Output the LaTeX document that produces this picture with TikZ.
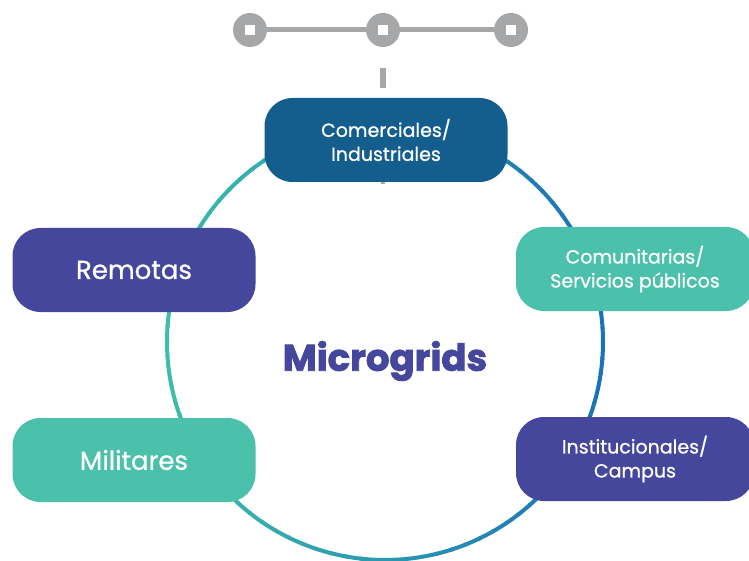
\documentclass[tikz,border=0pt]{standalone}
\usepackage{fontspec}
\setmainfont{Poppins}
\newfontfamily\medfont{Poppins}[FakeBold=0.8]
\newfontfamily\heavyfont{Poppins}[BoldFeatures={FakeBold=2.2}]
\definecolor{cteal}{HTML}{3DBDAB}
\definecolor{cblue}{HTML}{1A72B7}
\definecolor{boxteal}{HTML}{4BC0AB}
\definecolor{boxpurple}{HTML}{45479C}
\definecolor{boxnavy}{HTML}{135E8C}
\definecolor{cgray}{HTML}{A5A7A8}
\tikzset{
  catbox/.style={rounded corners=28pt, minimum width=243pt, minimum height=84pt,
    text=white, align=center, inner sep=0pt, font=\medfont\fontsize{19}{24}\selectfont},
  bigcat/.style={catbox, font=\medfont\fontsize{26}{30}\selectfont},
  dot/.style={circle, fill=cgray, minimum size=34pt, inner sep=0pt},
  sq/.style={fill=white, minimum size=10pt, inner sep=0pt}
}
\begin{document}
\begin{tikzpicture}[x=1pt,y=-1pt]
\useasboundingbox (0,0) rectangle (749,561);
\clip (0,0) rectangle (749,561);
% ring with horizontal colour gradient
\foreach \a in {0,4,...,356}{
  \pgfmathsetmacro\p{50+50*cos(\a+2)}
  \draw[line width=4pt, color=cblue!\p!cteal]
    ({385+218*cos(\a)},{342+218*sin(\a)}) arc[start angle=\a, end angle=\a+4.6, radius=218];
}
% top timeline
\node[dot] (d1) at (250,30) {};
\node[dot] (d2) at (383,30) {};
\node[dot] (d3) at (511,30) {};
\draw[cgray, line width=5pt] (d1) -- (d2) -- (d3);
\node[sq] (s1) at (d1) {};
\node[sq] (s2) at (d2) {};
\node[sq] (s3) at (d3) {};
\coordinate (t1) at (383,68);
\coordinate (t2) at (383,88);
\draw[cgray, line width=6pt] (t1) -- (t2);
\coordinate (b1) at (383,178);
\coordinate (b2) at (383,184);
\draw[cgray, line width=4pt] (b1) -- (b2);
% boxes
\node[catbox, fill=boxnavy] (com) at (386,140) {Comerciales/\\Industriales};
\node[catbox, fill=boxteal, minimum width=238pt] (comu) at (635,269) {Comunitarias/\\Servicios públicos};
\node[catbox, fill=boxpurple, minimum width=238pt] (inst) at (635,459) {Institucionales/\\Campus};
\node[bigcat, fill=boxpurple] (rem) at (134,270) {Remotas};
\node[bigcat, fill=boxteal] (mil) at (134,460) {Militares};
\node[text=boxpurple, font=\heavyfont\bfseries\fontsize{37}{40}\selectfont] (mg) at (385,361) {Microgrids};
\end{tikzpicture}
\end{document}
